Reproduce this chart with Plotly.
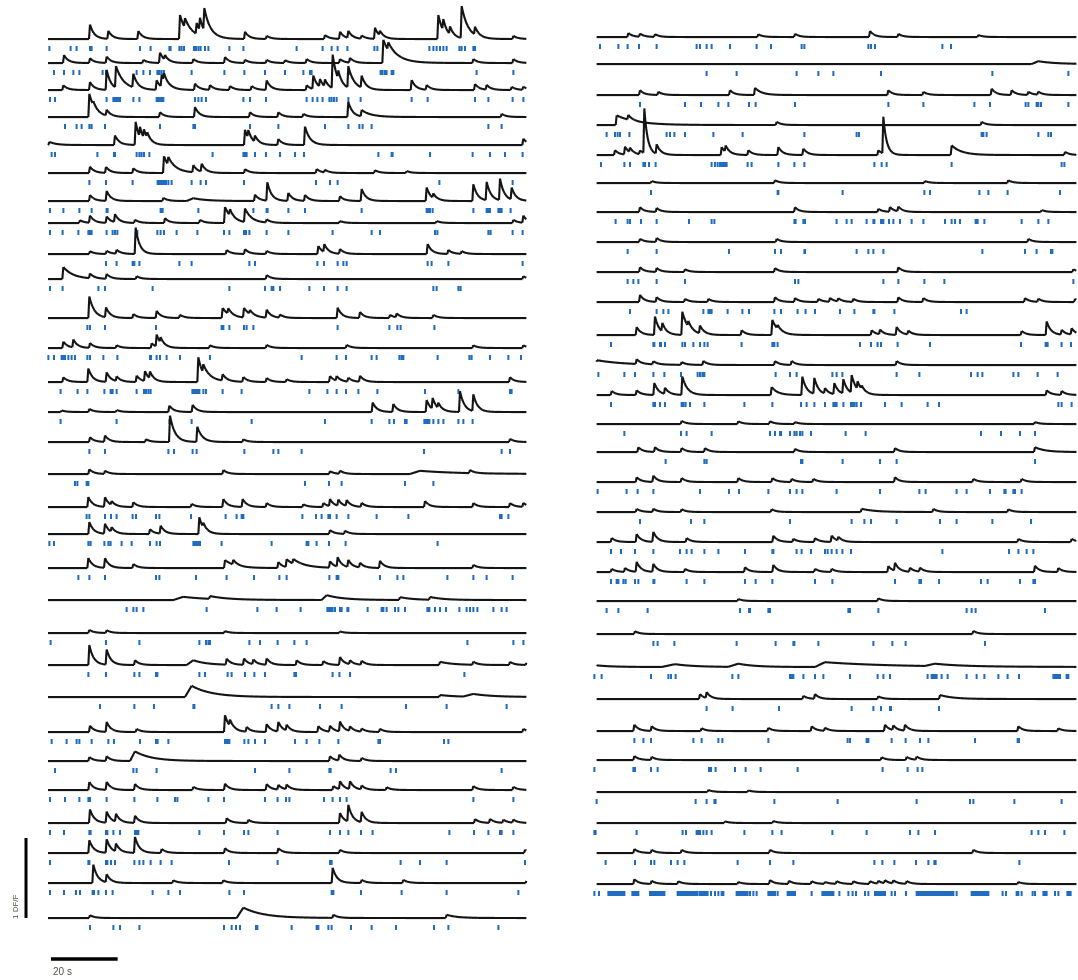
import numpy as np
import plotly.graph_objects as go

# ---------------------------------------------------------------- data
# time axis (s); each panel shares the same recording window
LEFT_T = (2.4, 146.0)
RIGHT_T = (3.5, 147.5)

# transient events per cell: (peak time s, amplitude dF/F[, decay s[, rise s]])
LEFT_EVENTS = [
    [(15.0,.18),(20.5,.10),(29.5,.10),(42.0,.30,2.0),(43.5,.12,3),(47.0,.14),(48.0,.16),(49.3,.28,2.0),(61.5,.09),(68,.04),(85.5,.05),(90,.09),(92.5,.09),(96.5,.04),(100.5,.14),(102,.06),(119.5,.30,1.5),(121,.14),(123,.10),(126.5,.40,2.0),(130.5,.10),(142,.04)],
    [(7.2,.10),(15,.06),(20,.08),(31,.04),(36,.13),(37.5,.06),(46,.05),(55.5,.075),(61.5,.04),(68,.04),(73.5,.035),(80,.05),(90,.05),(93,.06),(103,.29,2.5),(104.5,.10,4),(130,.05),(142,.05)],
    [(7,.06),(15,.10),(20,.25),(22.8,.27,2.5),(28,.17),(35,.12),(36.5,.15),(37.2,.10,2),(46.5,.08),(51,.06),(57,.05),(63.5,.05),(68,.12),(80,.06),(82,.17),(84,.10),(85.5,.09),(87.8,.42,1.5),(89.5,.10),(92.5,.27,1.8),(96.5,.15),(111.5,.125),(116,.06),(130.5,.075),(134,.06),(141.5,.04),(145,.04)],
    [(14.8,.29,1.8),(16,.05),(20,.075),(36,.06),(46.5,.125),(63,.06),(71.5,.06),(79,.04),(92.5,.19),(96.5,.08,3),(138.5,.04)],
    [(2.8,.04,2),(22.5,.12),(28.7,.29,1.2),(30,.13),(31.2,.11),(32.2,.07),(61.5,.19),(62.5,.10),(64.5,.08),(71.5,.075),(79.5,.23,1.5),(145,.08)],
    [(15,.08),(19.8,.075),(28,.06),(37.2,.21,1.8),(38.5,.10,3),(46,.09),(48.5,.10),(61.5,.05),(83,.05),(85.5,.035),(100.5,.035),(110,.025)],
    [(15,.075),(20,.125),(37,.04),(46,.035,4,2),(64.5,.08),(68.2,.23),(74.5,.10),(79.5,.075),(90,.06),(96.5,.15),(116,.17),(118,.06),(130,.21),(134,.23),(138,.27),(141.5,.15)],
    [(12,.035),(15,.09),(20,.08),(22.5,.10),(28.5,.04),(37.5,.06),(48,.04),(55.5,.20,2),(57,.08),(61.5,.17,2),(68,.04),(90,.025),(119,.025),(142,.04),(145,.09)],
    [(15,.035),(20,.04),(23,.05),(28.7,.33,1.2),(56,.05),(61.5,.06),(68,.04),(83.5,.10),(85.3,.10),(90,.06),(116.3,.125),(122.5,.05),(126.5,.035)],
    [(7,.15,3.0),(15,.06),(20,.06),(29,.035),(68,.05),(145,.035)],
    [(14.8,.27,1.5),(19.8,.125),(28,.05),(35,.09),(42,.04),(54.8,.125,2),(56.5,.07),(61.2,.12,2),(63,.05),(68,.10),(72,.04),(89.3,.13),(96,.075),(105,.04),(107,.05),(118,.04)],
    [(7,.08),(10,.10),(15,.06),(23,.035),(33.5,.06),(35,.15),(36.2,.07),(51,.035),(68,.04),(92,.04),(130,.035),(145,.035)],
    [(7,.06),(14.5,.17),(20,.12),(23,.06),(29,.08),(31.5,.125),(33,.09),(47.5,.31,1.5),(49,.11,3),(54.8,.08),(61,.06),(68,.05),(74,.035),(87,.075),(89,.06),(92.5,.05),(96,.075),(141,.06)],
    [(6.5,.02),(14.8,.04),(23,.025),(38.8,.08),(45.8,.09),(99.8,.12),(106,.10),(116,.15),(117.8,.14),(119.5,.07),(126,.26,1.3),(130,.21,1.3)],
    [(15,.06),(19.5,.08),(31.8,.035),(39,.33,1.5),(47.2,.19,1.5),(61,.035),(141,.04)],
    [(14.8,.06),(19.5,.04),(55,.05),(87,.035),(90,.04),(114,.04,12,3),(129,.04)],
    [(14.5,.125),(19.5,.12),(21.5,.05),(28,.06),(45.5,.04),(55,.10),(60.8,.10),(68,.05),(79,.035),(85,.05),(87,.09),(89.5,.08),(92,.075),(96.5,.05),(115.5,.075),(130,.05),(141,.05),(145,.05)],
    [(14.8,.15),(19.5,.125),(21.5,.06),(33,.06),(36.2,.10),(47.8,.21,1.3),(49,.06),(87,.05),(91.5,.04)],
    [(14.5,.125),(19.5,.12),(28,.05),(55.5,.10,3),(58,.06),(71.5,.075),(74,.10,3),(76,.06,4),(87,.08),(89.3,.12),(92.5,.09),(96,.06),(102,.09),(130,.04)],
    [(43,.04,8,3),(51,.035,5),(86,.06,5,1.5),(108,.035,4),(117,.035,4)],
    [(14.8,.04),(20,.035),(55.5,.025),(90,.02)],
    [(14.8,.25),(20,.19),(28.5,.06),(46,.06,4,2),(56,.075),(61.2,.08),(64,.06),(68,.08),(77,.06),(85,.05),(90,.10),(93,.05),(96.5,.05),(120,.04,4),(130,.04),(141,.04),(146,.04)],
    [(45.5,.14,6,2),(120,.025,5),(130,.035,6,3)],
    [(15,.08),(20,.125),(29,.04),(55.5,.21,1.5),(57,.08),(62,.06),(68,.10),(71.5,.12),(74,.075),(83.5,.075),(87,.075),(90,.125),(93,.06),(96.5,.04),(102,.04),(145,.04)],
    [(14.8,.05),(20,.06),(28.5,.12,5,1.5),(87,.06),(89.8,.075),(96.5,.04)],
    [(14.8,.10),(20,.10),(28.5,.075),(46,.04),(55.5,.08),(68,.075),(71.5,.06),(74,.06),(88,.05),(90,.10),(93,.10),(96.5,.05),(104,.035),(130,.05),(142,.04)],
    [(15,.17),(20,.14),(22.8,.10),(28.5,.09),(56,.06),(62.5,.04),(90,.125),(92.5,.21),(96.5,.13),(130.5,.05),(135,.05),(139,.04),(142,.04)],
    [(14.8,.16),(20,.17),(22.8,.10),(28.5,.20),(36.5,.05),(55.5,.06),(71.5,.06),(90,.04),(145.5,.04)],
    [(16,.23,1.3),(20,.10),(40,.035),(55,.035),(87.8,.19,1.3),(96.5,.04),(109,.04),(146,.04)],
    [(15,.035),(61,.13,6,2),(88,.04),(122,.04,3)],
]

LEFT_SPIKES = [
    [2.8,9.2,11.0,15.0,15.5,20.0,30.0,33.2,38.8,39.2,41.8,42.5,43.2,46.2,46.8,47.5,48.2,49.5,50.5,56.8,61.0,77.0,84.8,87.5,89.3,92.2,100.3,101.2,116.8,118.0,119.0,120.0,121.0,122.0,125.8,126.5,127.5,130.0,130.5],
    [4.2,7.2,10.0,11.8,18.8,19.8,29.0,31.0,33.0,35.2,35.8,36.5,37.2,45.5,55.3,61.3,67.5,73.5,79.0,81.0,81.5,89.5,92.8,102.2,102.8,103.5,104.0,105.5,106.0,131.0,142.0],
    [3.0,4.5,20.0,22.0,22.5,23.0,23.5,24.0,28.0,29.8,35.0,35.5,36.0,36.5,37.0,46.5,47.5,48.5,49.8,61.0,63.0,67.8,80.0,81.8,83.2,84.8,86.8,87.5,88.2,89.0,92.5,96.2,111.5,116.3,130.5,134.5,141.8,145.0],
    [7.5,11.0,12.5,14.8,15.5,19.5,36.0,46.0,46.5,63.0,71.5,85.5,92.5,95.8,96.8,99.5,134.5,138.5],
    [3.5,4.5,17.2,22.2,22.5,29.0,29.8,30.5,31.2,32.8,51.8,61.0,61.5,62.0,64.5,67.8,72.0,76.5,79.2,101.5,105.5,105.8,117.0,129.8,135.0,139.5,144.8],
    [14.8,19.8,27.8,35.3,35.8,36.2,36.8,37.2,37.8,38.5,39.5,45.5,48.2,49.8,61.2,82.8,87.0,89.3,119.8,141.8],
    [3.0,7.0,11.8,15.5,20.0,20.3,36.2,36.8,47.5,64.0,68.0,68.3,74.5,79.5,96.5,116.0,116.5,117.0,117.8,130.0,134.0,134.5,135.0,137.5,138.0,138.5,141.2],
    [3.0,6.8,11.5,14.5,15.0,15.5,20.0,21.8,22.5,23.2,29.2,35.2,36.2,37.2,41.0,47.2,55.2,56.8,61.2,61.8,62.8,68.0,74.5,87.8,99.5,102.0,118.5,119.2,134.5,135.2,141.8,144.8],
    [19.8,23.0,27.8,28.3,29.8,41.8,45.5,62.8,64.5,83.2,85.2,89.3,91.0,92.0,116.3,117.5,122.5,144.8],
    [3.0,6.8,17.5,19.5,33.8,56.8,67.5,69.5,70.0,72.0,80.8,85.2,89.3,92.0,118.0,119.0,125.5,126.2],
    [14.2,15.0,19.5,34.8,54.5,55.0,56.8,61.2,62.0,64.0,89.3,104.8,107.2,108.2,118.3],
    [2.5,4.2,6.5,7.0,7.5,8.5,9.5,10.5,14.2,15.0,19.0,23.2,33.0,33.3,35.0,36.0,38.0,42.0,51.0,78.5,89.0,91.8,99.5,101.0,107.8,108.5,109.0,119.3,128.8,129.5,135.0,140.5,144.3],
    [6.2,11.3,14.2,19.3,21.2,21.8,23.0,29.0,31.2,31.8,32.5,33.2,45.7,46.2,46.8,47.3,47.8,49.0,49.8,54.8,60.5,80.8,86.2,89.0,91.8,95.5,101.2,115.5,125.5,141.0,141.5],
    [6.2,23.0,38.8,45.5,63.5,85.5,99.5,104.8,106.2,109.5,110.0,115.3,115.8,116.3,116.8,118.0,119.5,121.0,125.5,127.0,129.8],
    [14.8,19.5,38.5,40.2,45.8,47.0,61.3,70.0,71.5,78.5,115.2,138.5,141.0],
    [10.5,11.2,14.0,14.5,79.5,86.7,90.5,109.5,118.0],
    [14.0,14.8,19.5,21.3,23.0,27.8,28.8,34.8,35.8,45.3,55.7,59.0,60.5,61.0,78.7,82.8,84.5,86.5,87.0,89.0,92.5,101.0,110.5,138.0,138.5,140.5],
    [2.8,4.2,14.5,15.2,19.3,20.5,21.2,24.5,27.5,33.0,35.0,36.0,46.0,46.5,47.0,47.5,48.0,54.5,69.5,80.0,80.5,83.0,86.7,91.7,119.3],
    [11.5,14.8,19.5,34.8,35.8,46.8,56.0,64.2,71.8,74.0,86.8,89.0,89.5,102.0,107.2,109.0,122.2,130.0,134.0,141.8],
    [26.0,28.0,29.0,31.0,50.0,65.2,71.0,78.2,86.2,86.8,87.2,87.8,88.5,90.0,90.5,92.2,92.5,98.3,102.5,103.0,104.0,106.5,107.5,109.5,116.2,116.8,118.5,120.0,121.8,125.8,128.0,129.0,130.0,131.2,136.0,138.5,140.0],
    [3.2,19.8,29.8,47.8,49.8,50.5,51.0,62.8,66.0,71.3,76.3,80.0,128.2,142.0,145.0],
    [14.5,19.8,28.3,29.8,34.8,35.2,47.8,49.5,56.3,57.5,61.5,64.3,67.5,76.3,76.8,87.8,89.8,93.0,127.3],
    [18.0,28.3,34.2,46.0,46.3,69.5,71.5,74.8,84.0,90.5,109.8,122.0,140.0],
    [3.5,8.0,11.0,11.8,15.5,20.5,22.2,30.0,34.8,35.3,38.5,55.5,56.0,56.5,56.8,61.3,62.5,64.5,67.5,76.5,80.0,83.8,89.5,101.5,102.0,121.2,122.5],
    [4.5,28.0,29.0,35.0,64.5,74.8,86.8,87.2,105.2,106.8,138.5],
    [3.0,7.5,11.8,14.5,15.0,20.0,28.3,35.2,40.5,41.2,50.5,55.2,67.5,71.3,73.8,74.8,85.2,87.8,90.0,92.0,130.0,142.0],
    [3.0,7.2,14.8,15.2,19.8,20.2,22.0,24.0,28.5,29.0,29.5,47.8,55.2,61.2,62.5,71.3,87.0,90.0,92.5,96.3,99.8,122.8,130.2,134.5,138.0,138.5,142.0],
    [3.0,14.5,14.8,19.8,20.2,21.3,22.5,28.3,29.8,31.0,33.2,36.2,39.5,56.7,71.3,87.0,87.5,108.2,114.0,122.0,145.5],
    [3.0,7.2,10.8,12.0,15.8,16.2,17.5,19.8,21.8,33.8,38.5,42.0,56.8,61.2,87.5,88.0,96.3,108.5,122.0,143.5],
    [15.0,22.0,24.0,29.8,55.2,57.5,58.8,60.0,64.8,65.2,75.5,83.0,83.5,86.5,87.5,93.3,99.5,106.8,118.2,122.5,137.5],
]

RIGHT_EVENTS = [
    [(13,.05),(16.5,.04),(21,.035),(52,.035),(63,.04),(85.5,.075),(94,.04),(118,.025)],
    [(136,.035,5,2)],
    [(16.5,.06),(22,.04),(43.5,.06),(51,.09,2),(91,.06),(101.5,.04),(122,.08),(128,.06),(133,.04),(136,.04)],
    [(9.5,.12,6),(13,.06),(57.5,.04),(119,.04)],
    [(9,.06),(12,.10),(13.5,.06),(16.5,.05),(17.8,.56,1.0),(21.5,.12),(41,.10),(42.2,.08),(49,.06),(58,.10),(65.5,.08),(88,.06),(89.5,.46,1.0),(110,.12,3),(144,.04)],
    [(20,.025),(57,.035),(102,.025),(127,.035)],
    [(16.5,.06),(21.5,.05),(63,.06),(88,.04),(91.5,.06),(94,.06),(137,.025)],
    [(16.5,.04),(21.5,.05),(57.5,.04),(133,.04)],
    [(16.5,.06),(21.5,.05),(30,.035),(57,.05),(94,.06),(146.5,.035)],
    [(16.5,.09),(21.5,.06),(30,.04),(37,.04),(57,.06),(63,.05),(70,.04),(73.5,.05),(76,.04),(80.5,.04),(94,.06),(101.5,.05),(132,.05),(136,.04),(147,.04)],
    [(15.5,.10),(21,.23,1.3),(23.2,.11),(29.2,.29,1.8),(31,.07),(34.5,.10),(47,.06),(56.2,.19,1.8),(57.8,.05),(86,.06),(88.5,.06),(93.5,.10),(97,.05),(131,.05),(138.5,.17),(143,.06),(146,.08)],
    [(3.6,.06,8),(15.5,.06),(20.5,.04),(29,.035),(35.5,.05),(57,.05),(62,.05),(93.5,.05)],
    [(8,.05),(15.5,.06),(20.8,.15),(24,.08),(29.2,.23,1.5),(56,.10,1.8),(65.2,.23),(68.8,.20),(72,.07),(74.8,.14),(77.5,.18),(80,.22,1.5),(81.8,.10),(83,.05),(138.5,.06),(143,.05)],
    [(29,.04),(46,.035),(55.5,.035),(63,.025),(135,.025)],
    [(16,.06),(21,.06),(29,.05),(36,.05),(63,.04),(93,.05),(135,.06,3)],
    [(15.5,.06),(20.5,.08),(29,.05),(46,.05),(56.2,.05),(62,.04),(68.5,.04),(93,.06),(116.5,.04),(131,.04)],
    [(15.5,.04),(20.5,.04),(29,.035),(56,.035),(83,.04,4),(104.5,.04),(127,.035)],
    [(8,.05),(15.5,.10),(20.5,.125),(30.5,.05),(56.5,.08),(62.5,.04),(69,.05),(74,.08),(76,.05),(130,.04),(146,.04)],
    [(8,.04),(12,.05),(15.5,.125),(20.5,.10),(30,.04),(48,.06),(56.5,.09),(69,.04),(74,.04),(91,.075),(93,.10),(97.5,.05),(100.5,.05),(135,.08),(142,.05)],
    [(46,.025),(88,.035)],
    [(15,.035),(116.5,.04)],
    [(3.6,.02,5),(27,.035,6,4),(46,.04,5,3),(72,.06,20,3),(105,.03,8,3)],
    [(34.5,.06),(36.5,.075),(65.5,.04),(69,.06),(88,.035),(106.5,.05,4)],
    [(14.8,.08),(20,.06),(35,.035),(55,.04),(68,.06),(72,.04),(90,.08),(92.5,.06),(96,.075),(130,.06),(142,.035)],
    [(14.8,.05),(20,.04),(89,.035),(96.5,.04),(99.5,.04)],
    [(37,.025),(49,.02)],
    [(42,.02),(56.5,.025)],
    [(14.8,.05),(20,.04),(29,.04),(55.5,.04),(116.5,.04)],
    [(14.8,.06),(20,.04),(28,.035),(46,.025),(55.5,.05),(61.2,.04),(68,.035),(72,.025),(75.5,.035),(80.5,.035),(85.5,.035),(88,.035),(90,.04),(92.5,.04),(96.5,.035),(130,.025)],
]

RIGHT_SPIKES = [
    [4.5,10.0,12.8,16.2,21.5,33.5,34.5,36.5,38.0,43.5,51.5,55.8,65.0,65.8,85.0,85.8,87.0,107.2,109.8],
    [36.5,45.5,63.5,70.0,74.5,88.8,122.2,145.0],
    [16.5,30.0,34.8,40.0,43.0,49.2,51.2,63.0,91.0,101.5,116.8,121.5,132.2,133.0,135.5,136.0,136.8,145.0],
    [6.5,9.0,9.8,10.5,13.3,24.5,25.5,26.8,30.0,38.5,47.3,65.8,81.5,82.2,119.0,119.5,120.5,136.0,139.0,139.8],
    [4.8,11.8,13.5,17.5,18.0,19.2,21.2,38.0,39.0,39.8,40.5,41.0,41.5,42.0,42.5,48.8,50.0,58.0,62.8,65.8,86.8,89.0,90.5,110.0,143.0,143.8],
    [19.8,57.8,58.0,77.3,101.8,103.5,118.3,121.0,126.8,142.5],
    [9.2,12.8,13.5,16.8,21.5,31.2,38.0,38.8,62.8,63.2,65.5,66.0,75.5,78.5,80.0,84.5,86.5,86.8,88.8,89.2,89.5,91.2,92.5,94.5,98.0,101.5,108.0,110.0,111.0,112.5,117.2,117.8,119.8,131.0,136.0,139.0],
    [12.8,21.5,43.2,57.0,58.8,65.8,66.0,81.5,85.0,86.5,89.5,119.2,132.0,135.5,139.8,140.2],
    [12.8,14.5,16.0,21.5,30.0,63.0,64.0,89.5,94.0,101.8,107.8,146.5],
    [13.5,21.5,23.5,25.0,35.5,37.0,37.5,38.0,42.8,47.2,49.2,56.8,58.8,63.8,66.2,69.0,76.5,80.8,86.5,86.8,92.8,112.8,114.5],
    [7.8,20.5,20.8,22.5,22.8,24.0,29.2,30.0,32.5,34.5,35.8,36.8,47.0,56.2,56.8,57.8,82.5,85.8,87.8,88.8,93.8,103.5,130.8,138.2,138.8,143.0,145.8],
    [4.0,11.8,15.0,20.5,23.8,28.8,33.8,34.5,35.2,35.8,57.2,61.5,63.5,74.2,75.5,77.2,93.5,100.3,115.8,117.8,119.2,128.5,130.0,135.8,141.8],
    [7.8,20.5,21.0,22.5,24.0,29.0,29.5,30.2,31.5,35.8,47.8,56.2,64.8,66.5,68.8,72.0,74.5,75.0,75.5,77.5,79.8,80.3,80.8,81.5,82.8,90.0,95.0,102.8,106.2,142.0,143.0,146.0],
    [11.8,28.8,30.5,38.0,55.5,57.0,58.5,58.8,61.5,62.8,63.5,64.5,65.2,67.8,78.2,84.2,118.8,124.8,130.5,135.0],
    [24.2,35.8,36.5,64.8,65.2,77.3,88.5,93.5,135.0],
    [3.8,12.5,15.8,20.5,34.5,43.2,46.2,55.0,61.5,63.5,65.2,75.5,88.5,100.3,102.2,111.5,114.5,121.5,125.8,126.2,128.5,129.0,131.0],
    [16.5,31.8,35.8,61.5,80.0,83.8,85.8,93.5,106.5,111.5,122.2,133.8],
    [7.8,10.8,15.0,20.5,28.5,30.5,32.0,35.8,40.0,48.0,56.2,56.5,63.5,65.0,67.8,72.0,72.8,74.0,75.5,77.2,79.8,107.2,127.2,130.0,132.5,134.5],
    [7.8,9.5,10.0,11.5,12.2,15.0,16.0,20.5,20.8,30.5,35.8,48.0,51.2,56.2,69.0,74.2,93.0,100.3,100.8,106.2,118.8,120.8,130.5,134.5,135.0],
    [6.5,10.0,18.8,46.5,49.2,49.5,55.0,55.5,79.0,79.5,88.0,114.5,116.0,117.2,138.0],
    [20.5,21.8,26.8,45.5,57.2,62.5,62.8,70.0,86.5,92.2,96.2,120.0],
    [2.8,5.0,19.8,25.0,25.8,27.2,44.2,46.0,61.5,62.0,62.5,65.5,69.0,71.5,79.5,87.8,89.5,91.5,102.8,104.0,104.5,105.0,105.5,107.0,108.8,114.5,117.5,119.8,124.0,126.8,130.2,140.5,141.0,141.5,142.0,142.5,144.5,145.0],
    [36.5,44.3,58.2,80.0,86.5,88.8,91.5,91.8,106.2],
    [14.8,17.5,19.8,32.5,35.0,40.0,41.2,55.0,78.8,79.5,84.5,85.0,92.0,96.2,100.5,103.0,117.0,129.8,130.2],
    [2.8,14.5,15.0,19.8,21.8,37.2,37.8,39.2,45.0,48.2,52.7,63.8,89.3,96.8,99.8,101.2],
    [3.5,33.2,36.5,38.8,39.2,56.8,75.8,99.5,115.5,116.5,128.8,143.0],
    [2.8,3.2,15.5,29.3,30.3,33.5,34.0,34.5,35.5,36.5,38.0,47.8,56.2,59.0,74.2,84.5,97.5,100.0,105.0,134.0,136.0,138.0,143.8],
    [6.2,15.0,19.8,20.8,25.8,27.8,29.8,45.8,55.5,62.5,86.8,89.2,92.8,99.3,103.0,104.8,105.2,130.3],
    [2.8,4.2,7.0,7.5,8.0,8.5,9.0,9.5,10.0,10.5,11.0,11.5,11.8,14.2,14.7,15.2,15.6,16.0,19.5,20.0,20.5,21.0,21.5,22.0,22.5,23.0,23.5,23.8,
     27.8,28.3,28.8,29.3,29.8,30.3,30.8,31.3,31.8,32.3,32.8,33.3,33.8,34.5,35.0,35.5,36.0,36.5,36.8,37.8,39.0,40.0,41.0,41.5,
     45.5,46.0,46.5,47.0,47.5,48.0,48.5,48.8,49.5,50.5,51.5,55.0,55.5,56.0,56.5,57.0,57.8,60.8,61.3,61.8,62.3,62.8,63.0,68.0,
     71.2,71.7,72.2,72.7,73.2,73.7,74.2,74.5,76.3,79.0,80.3,81.3,84.0,85.0,87.0,87.5,88.0,88.5,89.0,89.5,90.0,92.0,93.0,96.3,
     99.5,100.0,100.5,101.0,101.5,102.0,102.5,103.0,103.5,104.0,104.5,105.0,105.5,106.0,106.5,107.0,107.5,108.0,108.5,109.0,109.5,110.0,110.5,111.5,
     116.0,116.5,117.0,117.5,118.0,118.5,119.0,119.5,120.0,120.5,121.0,125.3,126.3,129.5,130.0,131.0,134.3,135.0,137.5,138.0,138.5,141.0,142.0,144.7,145.2,145.7],
]

SCALE_T = 20.0      # s, horizontal scale bar
SCALE_DFF = 1.0     # dF/F, vertical scale bar

# ---------------------------------------------------------------- layout constants
W, H = 1078, 980
PX_PER_UNIT = 80.0                      # px per 1 dF/F
PX_PER_S = 10.0 / 3.0                   # px per second
LEFT_X0, RIGHT_X0 = 40, 585             # px where t = 0 sits
LEFT_BASE_PX = [39, 63, 90, 117, 145, 173, 201, 223, 254, 279, 318, 348, 382, 412, 442,
                474, 507, 534, 568, 600, 633, 665, 697, 732, 761, 790, 823, 853, 883, 918]
RIGHT_BASE_PX = [37, 64, 95, 125, 155, 183, 212, 242, 272, 302, 335, 365, 395, 424, 452,
                 482, 512, 542, 572, 601, 634, 667, 699, 731, 760, 792, 823, 853, 884]
TICK_TOP, TICK_BOT = 7.0, 12.0          # px below trace baseline
TRACE_COLOR = "#141414"
TICK_COLOR = "#1f6cc0"


def render(events, t):
    y = np.zeros_like(t)
    for ev in events:
        t0, a = ev[0], ev[1]
        tau = ev[2] if len(ev) > 2 else 1.3
        rise = ev[3] if len(ev) > 3 else 0.3
        dt = t - t0
        up = (dt >= -rise) & (dt < 0)
        y[up] += a * (1 + dt[up] / rise)
        dn = dt >= 0
        y[dn] += a * np.exp(-dt[dn] / tau)
    return y


def panel(events_list, spikes_list, bases, trange):
    t = np.arange(trange[0], trange[1], 0.1)
    xs, ys, tx, ty = [], [], [], []
    for ev, sp, b in zip(events_list, spikes_list, bases):
        y0 = -b / PX_PER_UNIT
        xs.extend(t.tolist()); xs.append(None)
        ys.extend((y0 + render(ev, t)).tolist()); ys.append(None)
        for s in sp:
            tx.extend([s, s, None])
            ty.extend([y0 - TICK_TOP / PX_PER_UNIT, y0 - TICK_BOT / PX_PER_UNIT, None])
    return xs, ys, tx, ty


fig = go.Figure()
for ev, sp, bases, tr, xa, ya in [
        (LEFT_EVENTS, LEFT_SPIKES, LEFT_BASE_PX, LEFT_T, "x", "y"),
        (RIGHT_EVENTS, RIGHT_SPIKES, RIGHT_BASE_PX, RIGHT_T, "x2", "y2")]:
    xs, ys, tx, ty = panel(ev, sp, bases, tr)
    fig.add_trace(go.Scattergl(x=tx, y=ty, mode="lines", xaxis=xa, yaxis=ya,
                               line=dict(color=TICK_COLOR, width=2), hoverinfo="skip"))
    fig.add_trace(go.Scattergl(x=xs, y=ys, mode="lines", xaxis=xa, yaxis=ya,
                               line=dict(color=TRACE_COLOR, width=2.1), hoverinfo="skip"))

ax = dict(visible=False, showgrid=False, zeroline=False, fixedrange=True)
yr = [-H / PX_PER_UNIT, 0]
fig.update_layout(
    width=W, height=H, margin=dict(l=0, r=0, t=0, b=0),
    paper_bgcolor="white", plot_bgcolor="white", showlegend=False,
    xaxis=dict(ax, domain=[LEFT_X0 / W, (LEFT_X0 + 150 * PX_PER_S) / W], range=[0, 150]),
    xaxis2=dict(ax, domain=[RIGHT_X0 / W, 1.0], range=[0, (W - RIGHT_X0) / PX_PER_S]),
    yaxis=dict(ax, domain=[0, 1], range=yr),
    yaxis2=dict(ax, domain=[0, 1], range=yr, anchor="x2"),
)

# scale bars
t_bar0 = 3.3
fig.add_shape(type="line", xref="x", yref="y", x0=t_bar0, x1=t_bar0 + SCALE_T,
              y0=-959 / PX_PER_UNIT, y1=-959 / PX_PER_UNIT, line=dict(color="black", width=3.5))
yb0 = -838 / PX_PER_UNIT
fig.add_shape(type="line", xref="paper", yref="y", x0=26 / W, x1=26 / W,
              y0=yb0, y1=yb0 - SCALE_DFF, line=dict(color="black", width=3))
fig.add_annotation(xref="paper", yref="paper", x=51 / W, y=1 - 971 / H, text="20 s",
                   showarrow=False, xanchor="left", yanchor="middle",
                   font=dict(size=10, color="#5a5048", family="Liberation Sans"))
fig.add_annotation(xref="paper", yref="paper", x=15 / W, y=1 - 907 / H, text="1 DF/F",
                   showarrow=False, textangle=-90, xanchor="center", yanchor="middle",
                   font=dict(size=8, color="#5a5048", family="Liberation Sans"))

fig.write_html("out.html", config={"displayModeBar": False},
               post_script="document.body.style.margin='0px';document.body.style.overflow='hidden';")
